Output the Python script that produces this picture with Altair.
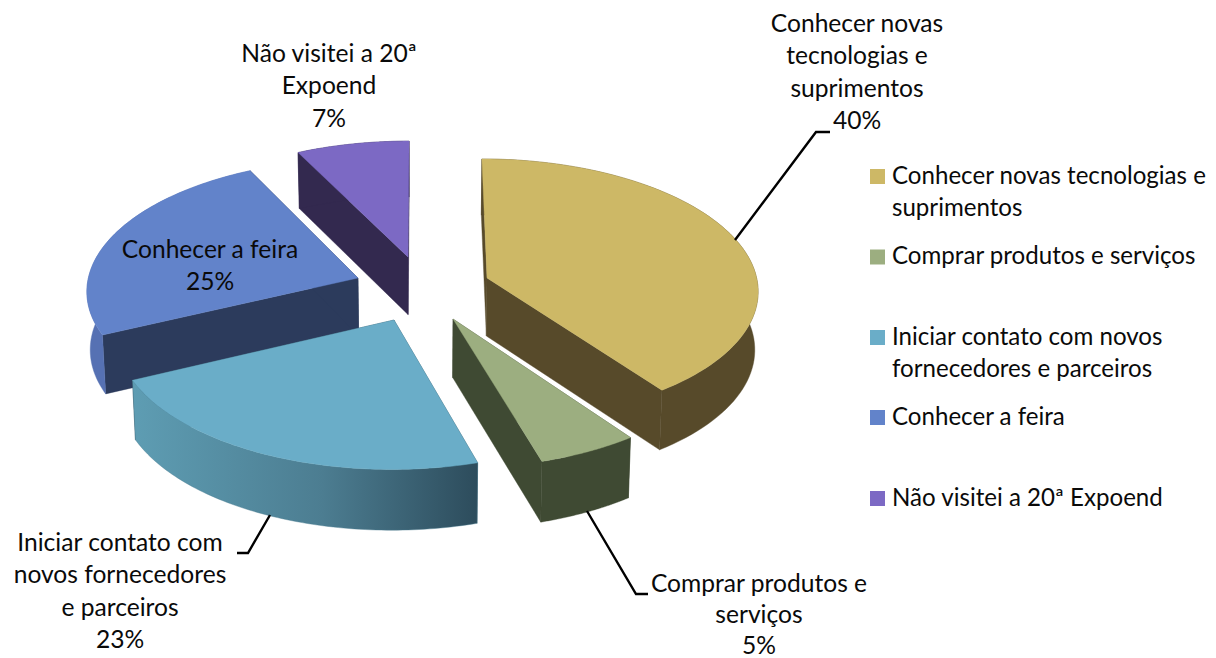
import numpy as np
import pandas as pd
import altair as alt

# ---- data ----
categories = ["Conhecer novas tecnologias e suprimentos", "Comprar produtos e serviços",
              "Iniciar contato com novos fornecedores e parceiros", "Conhecer a feira",
              "Não visitei a 20ª Expoend"]
values = [40.0, 5.4, 22.6, 24.6, 7.4]
top_colors = ["#CDB866", "#9CAE80", "#6AADC8", "#6283CA", "#7C69C4"]
rim_colors = ["#574A2A", "#3F4A33", "#5E9DB3", "#5671B3", "#33294F"]
cut_colors = ["#574A2A", "#3F4A33", "#2D4C5C", "#2C3B5C", "#33294F"]
legend_lines = [["Conhecer novas tecnologias e", "suprimentos"], ["Comprar produtos e serviços"],
                ["Iniciar contato com novos", "fornecedores e parceiros"], ["Conhecer a feira"],
                ["Não visitei a 20ª Expoend"]]
label_lines = [["Conhecer novas", "tecnologias e", "suprimentos", "40%"],
               ["Comprar produtos e", "serviços", "5%"],
               ["Iniciar contato com", "novos fornecedores", "e parceiros", "23%"],
               ["Conhecer a feira", "25%"],
               ["Não visitei a 20ª", "Expoend", "7%"]]

# ---- layout (image pixels) ----
W, H = 1200, 650
VX, VY, R, B, K, DEPTH, SHRINK = 422.0, 280.0, 270.0, 129.5, 0.085, 58.0, 0.99
apex_px = [(487, 278), (453, 319), (394, 320), (358, 278), (408, 257)]
label_pos = [(857, 24.5), (759, 584.5), (120, 544), (210, 250.5), (329, 54.5)]
label_step = [32.6, 31, 32.4, 32.6, 32.6]
legend_y = [176.5, 257, 337.5, 417.5, 498.5]
LINE_H = 32.6
leaders = [[(735, 240), (816, 132), (830, 132)],
           [(587, 511), (636, 594), (648, 594)],
           [(270, 515), (248, 553), (237, 553)]]

x_scale = alt.Scale(domain=[8, 8 + W], range=[0, W], nice=False, zero=False)
y_scale = alt.Scale(domain=[8, 8 + H], range=[0, H], nice=False, zero=False)
enc = dict(x=alt.X("x:Q", scale=x_scale, axis=None), y=alt.Y("y:Q", scale=y_scale, axis=None))


def project(X, Z, lower=False):
    s = 1.0 / (1.0 + K * Z)
    f = SHRINK if lower else 1.0
    x = VX + X * s * f
    y = VY - B * Z * s + (DEPTH * s ** 0.4 if lower else 0.0)
    return x, y


def slice_geometry(apex, t0, t1):
    w = (VY - apex[1]) / B
    Z0 = w / (1 - K * w)
    X0 = (apex[0] - VX) * (1 + K * Z0)
    t = np.radians(np.linspace(t0, t1, 80))
    return X0, Z0, X0 + R * np.sin(t), Z0 + np.cos(t)


def poly(xs, ys, fill):
    df = pd.DataFrame({"x": xs, "y": ys, "i": np.arange(len(xs))})
    stroke = fill if isinstance(fill, str) else "#4A7B8F"
    return alt.Chart(df).mark_line(interpolate="linear-closed", fill=fill, stroke=stroke,
                                   strokeWidth=0.4).encode(order=alt.Order("i:Q"), **enc)


gradient = alt.Gradient(gradient="linear", x1=0, x2=1, y1=0, y2=0,
                        stops=[alt.GradientStop(color="#5E9DB3", offset=0),
                               alt.GradientStop(color="#4C7D91", offset=0.55),
                               alt.GradientStop(color="#2D4C5C", offset=1)])

cum = np.cumsum([0] + values) * 3.6
layers = {}
for k in range(5):
    X0, Z0, X, Z = slice_geometry(apex_px[k], cum[k], cum[k + 1])
    tx, ty = project(X, Z)
    bx, by = project(X, Z, True)
    ax, ay = project(X0, Z0)
    lx, ly = project(X0, Z0, True)
    rim_fill = gradient if k == 2 else rim_colors[k]
    layers[k] = [
        poly([ax, tx[0], bx[0], lx], [ay, ty[0], by[0], ly], cut_colors[k]),
        poly([ax, tx[-1], bx[-1], lx], [ay, ty[-1], by[-1], ly], cut_colors[k]),
        poly(np.r_[tx, bx[::-1]], np.r_[ty, by[::-1]], rim_fill),
        poly(np.r_[ax, tx], np.r_[ay, ty], top_colors[k]),
    ]

draw_order = [4, 3, 0, 1, 2]
charts = [p for k in draw_order for p in layers[k]]

# leader lines
for pts in leaders:
    df = pd.DataFrame({"x": [p[0] for p in pts], "y": [p[1] for p in pts], "i": range(len(pts))})
    charts.append(alt.Chart(df).mark_line(color="black", strokeWidth=2.4).encode(order="i:Q", **enc))

# data labels and legend text
FONT = "Lato"
rows = []
for (cx, y0), step, lines in zip(label_pos, label_step, label_lines):
    for j, line in enumerate(lines):
        rows.append({"x": cx, "y": y0 + j * step, "t": line})
charts.append(alt.Chart(pd.DataFrame(rows)).mark_text(
    font=FONT, fontSize=24.6, color="#0A0A0A", align="center", baseline="middle").encode(text="t:N", **enc))

rows = []
for y0, lines in zip(legend_y, legend_lines):
    for j, line in enumerate(lines):
        rows.append({"x": 892, "y": y0 + j * LINE_H, "t": line})
charts.append(alt.Chart(pd.DataFrame(rows)).mark_text(
    font=FONT, fontSize=24.1, color="#0A0A0A", align="left", baseline="middle").encode(text="t:N", **enc))

sq = pd.DataFrame({"x": [877.5] * 5, "y": legend_y, "cat": categories})
charts.append(alt.Chart(sq).mark_square(size=225, opacity=1).encode(
    color=alt.Color("cat:N", scale=alt.Scale(domain=categories, range=top_colors), legend=None), **enc))

chart = alt.layer(*charts).properties(
    width=W, height=H, padding=0, autosize=alt.AutoSizeParams(type="none"), background="white"
).configure_view(stroke=None)

chart.save("out.html", embed_options={"renderer": "svg", "actions": False})
